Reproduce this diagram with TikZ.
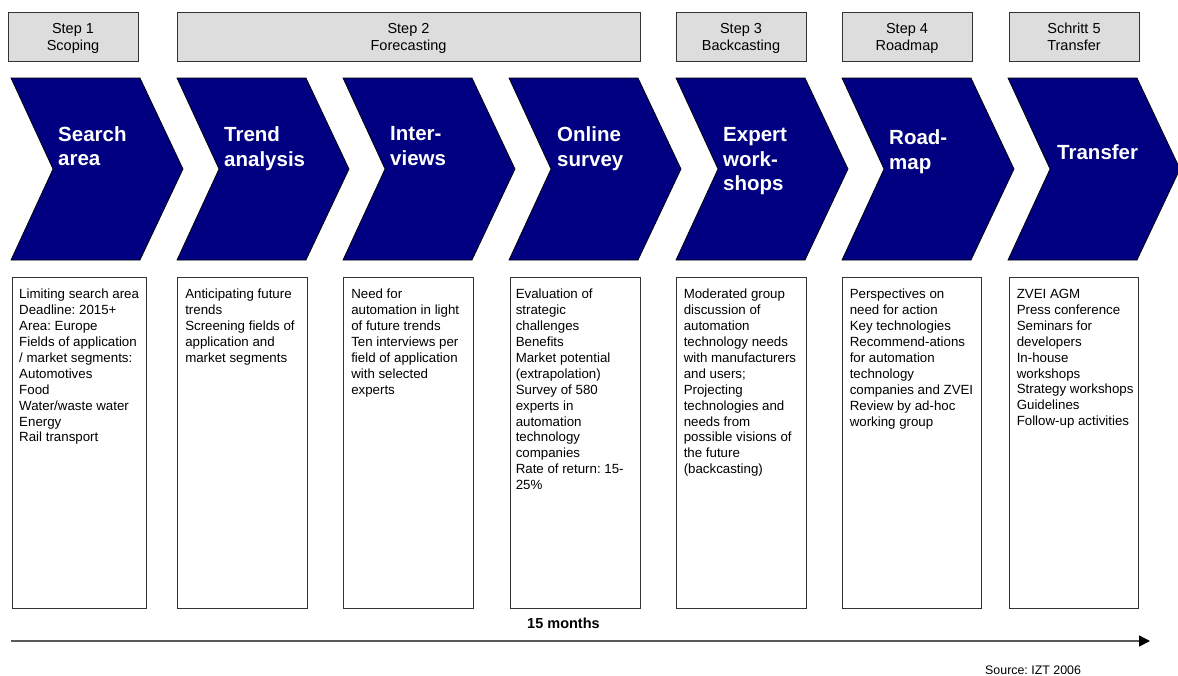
\documentclass[tikz,border=0pt]{standalone}
\usepackage{fontspec}
\setmainfont{Liberation Sans}
\usetikzlibrary{arrows.meta,calc}
\definecolor{navy}{RGB}{0,0,128}
\definecolor{hdrgray}{RGB}{221,221,221}
\definecolor{edgegray}{RGB}{51,51,51}
\definecolor{axisgray}{RGB}{90,90,90}
\frenchspacing
\begin{document}
\begin{tikzpicture}[x=1pt,y=-1pt,
  hdr/.style={draw=edgegray, fill=hdrgray, line width=0.9pt, inner sep=0pt,
    minimum height=49pt, align=center, text depth=0pt, font=\fontsize{14.5}{17}\selectfont},
  chevshape/.style={fill=navy, draw=black, line width=0.7pt},
  chevtext/.style={anchor=north west, align=left, inner sep=0pt, text=white,
    font=\fontsize{20.5}{24.5}\selectfont\bfseries},
  boxstyle/.style={draw=edgegray, line width=0.9pt, inner sep=0pt, minimum height=331pt},
  boxtext/.style={anchor=north west, align=left, inner sep=0pt,
    font=\fontsize{13.3}{15.9}\selectfont},
  timeline/.style={draw=axisgray, line width=1.5pt,
    -{Triangle[length=11pt,width=11pt,color=black]}},
]
\useasboundingbox (0,0) rectangle (1178,675);

% header boxes
\node[hdr, minimum width=130pt] (h1) at (73,36.5) {Step 1\\Scoping};
\node[hdr, minimum width=463pt] (h2) at (408.5,36.5) {Step 2\\Forecasting};
\node[hdr, minimum width=130pt] (h3) at (741,36.5) {Step 3\\Backcasting};
\node[hdr, minimum width=130pt] (h4) at (907,36.5) {Step 4\\Roadmap};
\node[hdr, minimum width=130pt] (h5) at (1074,36.5) {Schritt 5\\Transfer};

% chevrons
\foreach \x in {11,177,343,509,676,842,1008}{
  \path[chevshape] (\x,78) -- ++(129,0) -- ++(43,91) -- ++(-43,91) -- ++(-129,0) -- ++(42,-91) -- cycle;
}
\node[chevtext] (c1) at (58,126) {Search\\area};
\node[chevtext] (c2) at (224,126.5) {Trend\\analysis};
\node[chevtext] (c3) at (390,126.5) {Inter-\\views};
\node[chevtext] (c4) at (557,126.5) {Online\\survey};
\node[chevtext] (c5) at (723,127.5) {Expert\\work-\\shops};
\node[chevtext] (c6) at (889,129.5) {Road-\\map};
\node[chevtext] (c7) at (1057,144.5) {Transfer};

% text boxes
\node[boxstyle, minimum width=134pt] (b1) at (79,442.5) {};
\node[boxstyle, minimum width=130pt] (b2) at (242,442.5) {};
\node[boxstyle, minimum width=130pt] (b3) at (408,442.5) {};
\node[boxstyle, minimum width=130pt] (b4) at (575,442.5) {};
\node[boxstyle, minimum width=130pt] (b5) at (741,442.5) {};
\node[boxstyle, minimum width=139pt] (b6) at (911.5,442.5) {};
\node[boxstyle, minimum width=129pt] (b7) at (1073.5,442.5) {};

\node[boxtext] (t1) at ($(b1.north west)+(7.5,12.5)$) {Limiting search area\\Deadline: 2015+\\Area: Europe\\Fields of application\\/ market segments:\\Automotives\\Food\\Water/waste water\\Energy\\Rail transport};
\node[boxtext] (t2) at ($(b2.north west)+(8.5,12.5)$) {Anticipating future\\trends\\Screening fields of\\application and\\market segments};
\node[boxtext] (t3) at ($(b3.north west)+(8.5,12.5)$) {Need for\\automation in light\\of future trends\\Ten interviews per\\field of application\\with selected\\experts};
\node[boxtext] (t4) at ($(b4.north west)+(6,12.5)$) {Evaluation of\\strategic\\challenges\\Benefits\\Market potential\\(extrapolation)\\Survey of 580\\experts in\\automation\\technology\\companies\\Rate of return: 15-\\25\%};
\node[boxtext] (t5) at ($(b5.north west)+(8,12.5)$) {Moderated group\\discussion of\\automation\\technology needs\\with manufacturers\\and users;\\Projecting\\technologies and\\needs from\\possible visions of\\the future\\(backcasting)};
\node[boxtext] (t6) at ($(b6.north west)+(8,12.5)$) {Perspectives on\\need for action\\Key technologies\\Recommend-ations\\for automation\\technology\\companies and ZVEI\\Review by ad-hoc\\working group};
\node[boxtext] (t7) at ($(b7.north west)+(8,12.5)$) {ZVEI AGM\\Press conference\\Seminars for\\developers\\In-house\\workshops\\Strategy workshops\\Guidelines\\Follow-up activities};

% timeline
\coordinate (tl0) at (11,641);
\coordinate (tl1) at (1150,641);
\draw[timeline] (tl0) -- (tl1);
\node[font=\fontsize{14.5}{17}\selectfont\bfseries, inner sep=0pt] (months) at (563.5,623) {15 months};
\node[anchor=base west, inner sep=0pt, font=\fontsize{12.4}{15}\selectfont] (src) at (985,674) {Source: IZT 2006};
\end{tikzpicture}
\end{document}
